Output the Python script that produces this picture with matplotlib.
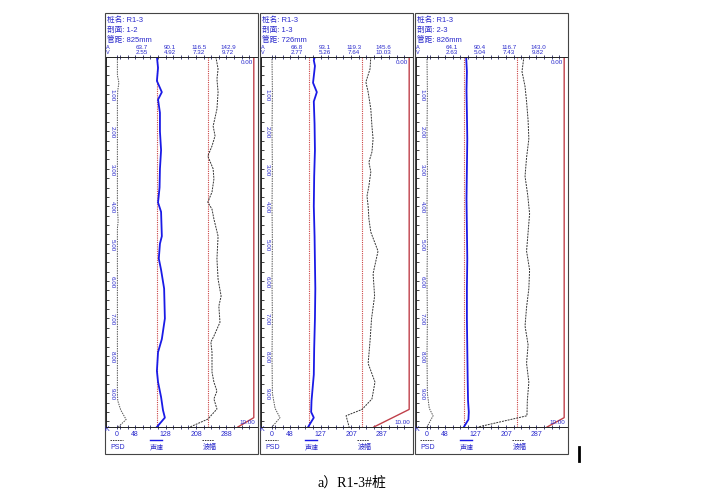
import matplotlib
matplotlib.use("Agg")
import matplotlib.pyplot as plt
from matplotlib.patches import Rectangle

plt.rcParams['font.family'] = ['Liberation Sans', 'Noto Sans CJK SC']

# ---- data ----
pile = "R1-3"
sections = ["1-2", "1-3", "2-3"]
spacings = ["825mm", "726mm", "826mm"]
a_labels = [["63.7", "90.1", "116.5", "142.9"],
            ["66.8", "93.1", "119.3", "145.6"],
            ["64.1", "90.4", "116.7", "143.0"]]
v_labels = [["2.55", "4.92", "7.32", "9.72"],
            ["2.77", "5.26", "7.64", "10.03"],
            ["2.63", "5.04", "7.43", "9.82"]]
k_labels = [["0", "48", "128", "208", "288"],
            ["0", "48", "127", "207", "287"],
            ["0", "48", "127", "207", "287"]]
k_ticks = [0, 48, 128, 208, 288]
top_ticks = [64, 140, 216, 292]
depth_ticks = [1, 2, 3, 4, 5, 6, 7, 8, 9]
depth_max = 9.9

# velocity (blue), K units
vel_depth = [
    [0.0, 0.3, 0.65, 0.95, 1.15, 1.5, 2.0, 2.5, 3.0, 3.5, 3.9, 4.15, 4.8, 5.0,
     5.4, 5.7, 6.2, 7.0, 7.55, 7.9, 8.4, 8.7, 9.1, 9.45, 9.65, 9.9],
    [0.0, 0.1, 0.25, 0.7, 0.95, 1.2, 1.8, 2.5, 3.2, 4.0, 4.8, 5.5, 6.2, 7.0,
     7.8, 8.5, 9.2, 9.5, 9.65, 9.9],
    [0.0, 0.4, 0.9, 1.5, 2.2, 3.0, 3.8, 4.6, 5.4, 6.2, 7.0, 7.8, 8.6, 9.2,
     9.5, 9.7, 9.9],
]
vel_vals = [
    [105, 108, 105, 118, 108, 113, 113, 116, 113, 112, 108, 116, 118, 113,
     110, 116, 124, 126, 118, 108, 105, 108, 116, 121, 126, 105],
    [113, 110, 113, 108, 118, 110, 112, 113, 111, 110, 112, 113, 114, 113,
     111, 110, 104, 103, 110, 95],
    [103, 105, 104, 105, 106, 105, 104, 105, 106, 105, 105, 106, 107, 108,
     110, 109, 97],
]

# amplitude (black dashed), K units
amp_depth = [
    [0.0, 0.33, 0.6, 0.95, 1.4, 1.86, 2.12, 2.39, 2.66, 3.0, 3.27, 3.62, 3.89,
     4.08, 4.34, 4.8, 5.41, 5.95, 6.4, 6.67, 7.1, 7.47, 7.63, 7.9, 8.43, 8.7,
     8.94, 9.15, 9.42, 9.69, 9.9],
    [0.0, 0.33, 0.68, 0.95, 1.4, 1.86, 2.2, 2.55, 2.82, 3.08, 3.46, 3.73, 4.0,
     4.34, 4.69, 5.2, 5.8, 6.4, 7.0, 7.6, 8.2, 8.7, 9.15, 9.43, 9.6, 9.9],
    [0.0, 0.4, 0.8, 1.2, 1.7, 2.2, 2.7, 3.2, 3.7, 4.2, 4.7, 5.2, 5.7, 6.2,
     6.7, 7.2, 7.7, 8.2, 8.7, 9.2, 9.6, 9.9],
]
amp_vals = [
    [260, 266, 263, 266, 263, 253, 258, 250, 239, 253, 255, 250, 239, 250, 255,
     266, 263, 266, 274, 268, 271, 255, 247, 250, 250, 255, 263, 255, 263, 239,
     192],
    [260, 258, 247, 253, 260, 263, 266, 263, 255, 260, 255, 250, 253, 255, 260,
     279, 266, 270, 262, 258, 253, 271, 263, 237, 195, 203],
    [255, 250, 258, 262, 266, 268, 262, 258, 265, 270, 266, 262, 270, 268,
     262, 258, 266, 262, 268, 264, 263, 134],
]

# PSD (grey dotted)
psd_depth = [
    [0.0, 0.5, 0.7, 0.9, 1.2, 2.0, 3.0, 4.0, 4.4, 4.6, 5.0, 6.0, 7.0, 8.0, 9.0,
     9.2, 9.45, 9.7, 9.9],
    [0.0, 1.0, 2.0, 3.0, 4.0, 5.0, 6.0, 7.0, 8.0, 9.0, 9.4, 9.65, 9.9],
    [0.0, 1.0, 2.0, 3.0, 4.0, 5.0, 6.0, 7.0, 8.0, 9.0, 9.4, 9.6, 9.9],
]
psd_vals = [
    [1, 1, 5, 2, 1, 1, 1, 1, 3, 1, 1, 1, 1, 1, 1, 2, 10, 24, 3],
    [0, 1, 0, 1, 0, 1, 0, 1, 0, 1, 8, 21, 0],
    [0, 1, 0, 1, 0, 1, 0, 1, 0, 1, 6, 16, 0],
]

vel_limit = [105, 97, 97]
amp_limit = [239, 237, 237]
edge_depth = [[0.0, 9.65, 9.9], [0.0, 9.43, 9.9], [0.0, 9.65, 9.9]]
edge_vals = [[360, 360, 318], [361, 361, 268], [361, 361, 316]]

W, H = 705, 502
TXT = '#2a2acc'
K0 = 117          # pixel x of K=0 in first panel
KSCALE = 0.38     # pixels per K unit
STEP = 155        # panel step in pixels
Y_TOP, Y_BOT = 57.6, 428

fig = plt.figure(figsize=(W / 100, H / 100), dpi=100)
canvas = fig.add_axes([0, 0, 1, 1])
canvas.set_xlim(0, W)
canvas.set_ylim(H, 0)
canvas.axis('off')

for i in range(3):
    ox = STEP * i
    # panel frame
    canvas.add_patch(Rectangle((105 + ox, 14), 153, 441, fill=False,
                               edgecolor='#444444', lw=0.8))
    canvas.text(107 + ox, 20, f"桩名: {pile}", fontsize=5.5, color=TXT, va='center')
    canvas.text(107 + ox, 30, f"剖面: {sections[i]}", fontsize=5.5, color=TXT, va='center')
    canvas.text(107 + ox, 40, f"管距: {spacings[i]}", fontsize=5.5, color=TXT, va='center')
    canvas.text(106 + ox, 47.5, "A", fontsize=4, color=TXT, va='center')
    canvas.text(106 + ox, 52.5, "V", fontsize=4, color=TXT, va='center')
    canvas.text(104 + ox, 430, "K", fontsize=5, color=TXT, va='center')

    # legend
    canvas.plot([110 + ox, 123 + ox], [441, 441], ls=(0, (1.5, 1)), color='#333333', lw=0.7)
    canvas.text(110 + ox, 448, "PSD", fontsize=5, color=TXT, va='center')
    canvas.plot([150 + ox, 162 + ox], [441, 441], color='#1a1ae6', lw=1.0)
    canvas.text(150 + ox, 448, "声速", fontsize=5, color=TXT, va='center')
    canvas.plot([202 + ox, 214 + ox], [441, 441], ls=(0, (1.5, 1)), color='#333333', lw=0.7)
    canvas.text(203 + ox, 448, "波幅", fontsize=5, color=TXT, va='center')

    left = 106 + ox
    ax = fig.add_axes([left / W, 1 - Y_BOT / H, 151 / W, (Y_BOT - Y_TOP) / H])
    ax.patch.set_alpha(0)
    ax.set_xlim((left - (K0 + ox)) / KSCALE, (left + 151 - (K0 + ox)) / KSCALE)
    ax.set_ylim(depth_max, 0)
    ax.spines['right'].set_visible(False)
    for s in ['left', 'top', 'bottom']:
        ax.spines[s].set_linewidth(0.7)
        ax.spines[s].set_color('#222222')

    ax.set_xticks(k_ticks)
    ax.set_xticklabels(k_labels[i])
    ax.set_xticks([8 + 20 * j for j in range(18)], minor=True)
    ax.tick_params(axis='x', which='both', direction='inout', length=2.5, width=0.6,
                   colors='#222266', labelsize=5, labelcolor=TXT, pad=1,
                   top=True, labeltop=False)
    ax.set_yticks(depth_ticks)
    ax.set_yticklabels([])
    ax.set_yticks([d * 0.25 for d in range(1, 40)], minor=True)
    ax.tick_params(axis='y', which='both', direction='in', length=2.5, width=0.6,
                   colors='#222222')
    for d in depth_ticks:
        ax.text(-13, d, f"{d:.2f}", rotation=270, fontsize=4.5, color=TXT,
                ha='center', va='center')
    for t, a, v in zip(top_ticks, a_labels[i], v_labels[i]):
        canvas.text(K0 + ox + t * KSCALE, 47.5, a, fontsize=4.5, color=TXT,
                    ha='center', va='center')
        canvas.text(K0 + ox + t * KSCALE, 52.5, v, fontsize=4.5, color=TXT,
                    ha='center', va='center')
    ax.text(342, 0.12, "0.00", fontsize=4.5, color=TXT, ha='center', va='center')
    ax.text(342, 9.75, "10.00", fontsize=4.5, color=TXT, ha='center', va='center')

    ax.axvline(vel_limit[i], color='#cc4444', ls=(0, (1, 1)), lw=0.8)
    ax.axvline(amp_limit[i], color='#cc4444', ls=(0, (1, 1)), lw=0.8)
    ax.plot(edge_vals[i], edge_depth[i], color='#c0404a', lw=1.0)
    ax.plot(psd_vals[i], psd_depth[i], color='#555555', ls=(0, (1.5, 1)), lw=0.7)
    ax.plot(amp_vals[i], amp_depth[i], color='#333333', ls=(0, (2, 1)), lw=0.7)
    ax.plot(vel_vals[i], vel_depth[i], color='#1a1ae6', lw=1.3)

canvas.plot([579, 579], [448, 462], color='black', lw=2)
canvas.text(352, 483, "a）R1-3#桩", fontsize=10, color='black', ha='center',
            va='center', family=['Liberation Serif', 'Noto Sans CJK SC'])

fig.savefig("out.png", dpi=100)
